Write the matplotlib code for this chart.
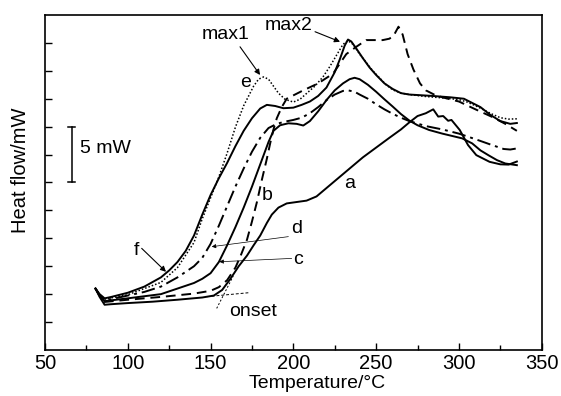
import numpy as np
import matplotlib
matplotlib.use('Agg')
import matplotlib.pyplot as plt

plt.rcParams['font.family'] = ['Liberation Sans', 'DejaVu Sans']

# curve a (solid, latest onset)
a_T = [80.5, 83, 86, 90, 100, 115, 130, 145, 152, 157, 162, 167, 172, 176, 180, 184, 187, 191, 196, 202,
       208, 214, 220, 228, 235, 242, 250, 258, 265, 270, 275, 280, 284.5, 287.5, 290.5, 293.5, 295.5,
       300.5, 305.5, 310.5, 318.5, 325, 330, 335]
a_Y = [2.2, 1.9, 1.62, 1.64, 1.68, 1.73, 1.8, 1.88, 1.95, 2.15, 2.55, 3.0, 3.38, 3.75, 4.1, 4.55, 4.85, 5.1, 5.25, 5.3,
       5.35, 5.5, 5.8, 6.2, 6.55, 6.9, 7.25, 7.6, 7.9, 8.15, 8.38, 8.48, 8.62, 8.36, 8.38, 8.21, 8.24,
       7.88, 7.34, 6.98, 6.74, 6.65, 6.64, 6.75]

# curve b (dashed)
b_T = [80.5, 83, 86, 100, 120, 140, 150, 155, 160, 165, 168, 172, 175, 178, 181, 184, 186, 188, 190, 193,
       196, 200, 206, 215, 224, 228, 232, 238, 244, 250, 254, 258, 260.5, 263.5, 266, 269, 272.5, 276.5,
       280, 285, 290, 300, 310, 320, 328, 335]
b_Y = [2.2, 1.95, 1.72, 1.8, 1.9, 2.02, 2.12, 2.25, 2.5, 2.95, 3.35, 3.95, 4.6, 5.3, 6.1, 6.85, 7.4, 7.9, 8.3, 8.7,
       9.0, 9.12, 9.3, 9.55, 9.9, 10.25, 10.6, 10.86, 11.1, 11.1, 11.1, 11.15, 11.25, 11.58, 11.3, 10.6, 10.05, 9.55,
       9.3, 9.15, 9.05, 8.9, 8.62, 8.35, 8.1, 7.85]

# curve c (solid)
c_T = [80.5, 83, 86, 100, 120, 140, 145, 150, 155, 160, 165, 170, 175, 180, 185, 188, 192, 197, 202, 206,
       210, 215, 220, 225, 230, 234, 237, 240, 245, 250, 255, 260, 265, 270, 275, 282, 290, 302, 308,
       313, 318, 323, 328, 335]
c_Y = [2.2, 1.95, 1.75, 1.85, 2.0, 2.4, 2.55, 2.75, 3.15, 3.75, 4.4, 5.1, 5.85, 6.65, 7.45, 7.85, 8.05, 8.12, 8.1, 8.04,
       8.2, 8.55, 8.95, 9.3, 9.55, 9.7, 9.75, 9.7, 9.5, 9.25, 8.98, 8.72, 8.45, 8.22, 8.05, 7.88, 7.75, 7.58, 7.4,
       7.15, 6.97, 6.8, 6.68, 6.62]

# curve d (dash-dot)
d_T = [80.5, 83, 86, 90, 100, 110, 120, 130, 140, 145, 150, 155, 160, 165, 170, 175, 180, 185, 190, 195,
       200, 205, 210, 215, 220, 225, 230, 233, 237, 240, 245, 250, 255, 260, 265, 270, 280, 290, 300,
       310, 320, 327, 331, 335]
d_Y = [2.2, 1.95, 1.8, 1.82, 1.95, 2.08, 2.27, 2.6, 3.0, 3.3, 3.8, 4.45, 5.15, 5.85, 6.5, 7.1, 7.6, 7.95, 8.1, 8.18,
       8.24, 8.32, 8.48, 8.7, 8.95, 9.15, 9.28, 9.3, 9.25, 9.15, 9.0, 8.8, 8.62, 8.46, 8.32, 8.2, 8.02, 7.9, 7.75,
       7.55, 7.34, 7.2, 7.18, 7.22]

# curve e (dotted, max1)
e_T = [80.5, 83, 86, 100, 120, 130, 140, 145, 150, 155, 160, 165, 170, 176, 179, 182, 185, 188, 191, 195,
       200, 204, 208, 213, 218, 222, 226, 230, 233, 236, 240, 244, 248, 252, 256, 260, 265, 270, 280,
       290, 300, 305, 310, 315, 320, 325, 330, 335]
e_Y = [2.2, 1.98, 1.82, 1.98, 2.42, 2.95, 3.85, 4.7, 5.45, 6.2, 7.05, 7.98, 8.75, 9.45, 9.7, 9.78, 9.7, 9.45, 9.2, 8.98,
       8.88, 8.98, 9.19, 9.45, 9.79, 10.15, 10.55, 10.95, 11.08, 10.95, 10.6, 10.3, 10.0, 9.75, 9.5, 9.32, 9.2, 9.15, 9.08,
       9.03, 8.97, 8.88, 8.75, 8.6, 8.45, 8.32, 8.27, 8.28]

# curve f (solid, earliest onset, max2)
f_T = [80.5, 83, 86, 90, 100, 110, 120, 125, 130, 135, 140, 145, 150, 155, 160, 165, 170, 175, 180, 184,
       189, 194, 200, 205, 210, 215, 220, 225, 228, 231, 233, 235, 238, 242, 246, 250, 255, 260, 265,
       270, 284, 295, 303, 308, 313, 319, 325, 331, 335]
f_Y = [2.2, 2.0, 1.85, 1.9, 2.05, 2.27, 2.6, 2.85, 3.15, 3.55, 4.1, 4.85, 5.55, 6.15, 6.7, 7.3, 7.85, 8.3, 8.65, 8.78,
       8.74, 8.66, 8.68, 8.78, 8.9, 9.1, 9.4, 9.95, 10.4, 10.9, 11.12, 11.05, 10.8, 10.45, 10.12, 9.85, 9.55, 9.35, 9.2,
       9.15, 9.1, 9.05, 9.0, 8.85, 8.7, 8.42, 8.2, 8.1, 8.13]

# onset construction lines
onset_base_T = [147.7, 172.8]
onset_base_Y = [1.91, 2.05]
onset_tan_T = [153.7, 163.7]
onset_tan_Y = [1.49, 2.65]

fig = plt.figure(figsize=(5.61, 3.96), dpi=100)
ax = fig.add_axes([0.0802, 0.1162, 0.8854, 0.846])

lw = 1.4
ax.plot(a_T, a_Y, color='black', lw=lw, ls='-')
ax.plot(b_T, b_Y, color='black', lw=lw, ls=(0, (5, 3)))
ax.plot(c_T, c_Y, color='black', lw=lw, ls='-')
ax.plot(d_T, d_Y, color='black', lw=lw, ls=(0, (7, 2.5, 1.5, 2.5)))
ax.plot(e_T, e_Y, color='black', lw=1.1, ls=(0, (1, 1.3)))
ax.plot(f_T, f_Y, color='black', lw=lw, ls='-')

ax.plot(onset_base_T, onset_base_Y, color='black', lw=0.7, ls=(0, (3, 2)))
ax.plot(onset_tan_T, onset_tan_Y, color='black', lw=0.7, ls=(0, (2, 2)))

# 5 mW scale bar
ax.plot([66.1, 66.1], [6.0, 7.98], color='black', lw=1.1)
ax.plot([64.0, 68.2], [7.98, 7.98], color='black', lw=1.1)
ax.plot([64.0, 68.2], [6.0, 6.0], color='black', lw=1.1)
ax.text(71.0, 7.22, '5 mW', fontsize=14, va='center', ha='left')

fs = 14
arr = dict(arrowstyle='-|>', color='black', lw=0.8, mutation_scale=8, shrinkA=0, shrinkB=0)
thin = dict(arrowstyle='-|>', color='black', lw=0.5, mutation_scale=6, shrinkA=0, shrinkB=0)

ax.text(159.2, 11.31, 'max1', fontsize=fs, ha='center', va='center')
ax.annotate('', xy=(179.9, 9.85), xytext=(167.8, 10.86), arrowprops=arr)
ax.text(196.9, 11.61, 'max2', fontsize=fs, ha='center', va='center')
ax.annotate('', xy=(228.2, 11.04), xytext=(213.1, 11.4), arrowprops=arr)
ax.text(171.4, 9.57, 'e', fontsize=fs, ha='center', va='center')
ax.text(183.9, 5.55, 'b', fontsize=fs, ha='center', va='center')
ax.text(234.2, 5.97, 'a', fontsize=fs, ha='center', va='center')
ax.text(202.0, 4.36, 'd', fontsize=fs, ha='center', va='center')
ax.annotate('', xy=(150.7, 3.7), xytext=(197.0, 4.06), arrowprops=thin)
ax.text(203.0, 3.25, 'c', fontsize=fs, ha='center', va='center')
ax.annotate('', xy=(155.3, 3.16), xytext=(199.0, 3.28), arrowprops=thin)
ax.text(105.4, 3.58, 'f', fontsize=fs, ha='center', va='center')
ax.annotate('', xy=(123.1, 2.8), xytext=(108.4, 3.64), arrowprops=arr)
ax.text(161.5, 1.37, 'onset', fontsize=fs, ha='left', va='center')

ax.set_xlim(50, 350)
ax.set_ylim(0, 12)
ax.set_xticks(np.arange(50, 351, 50))
ax.set_xticks(np.arange(75, 350, 50), minor=True)
ax.set_yticks(np.arange(1, 12, 1))
ax.set_yticklabels([])
ax.tick_params(axis='x', which='major', direction='in', length=5, width=1, labelsize=14.5, pad=3,
               top=False)
ax.tick_params(axis='x', which='minor', direction='in', length=3.5, width=1, top=False)
ax.tick_params(axis='y', which='major', direction='in', length=5, width=1, right=False)
for s in ax.spines.values():
    s.set_linewidth(1.2)

ax.set_xlabel('Temperature/°C', fontsize=14)
ax.xaxis.set_label_coords(0.547, -0.074)
ax.set_ylabel('Heat flow/mW', fontsize=14.5)
ax.yaxis.set_label_coords(-0.03, 0.537)

fig.savefig('out.png', dpi=100)
